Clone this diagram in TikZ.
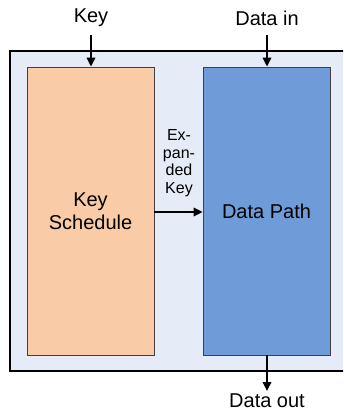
\documentclass[tikz,border=0pt]{standalone}
\usepackage{fontspec}
\setmainfont{Liberation Sans}
\usetikzlibrary{arrows.meta}
\definecolor{outerfill}{HTML}{E6ECF7}
\definecolor{keyfill}{HTML}{F9CBA7}
\definecolor{pathfill}{HTML}{6F9CD9}
\definecolor{boxline}{HTML}{404040}
\tikzset{
  block/.style={draw=boxline, line width=0.8pt, minimum width=127pt, minimum height=288pt, inner sep=0pt, font=\fontsize{20}{22.5}\selectfont, align=center},
  lbl/.style={font=\fontsize{20}{22.5}\selectfont, inner sep=0pt},
  flow/.style={line width=1.8pt, -{Triangle[length=9pt,width=8.5pt]}}
}
\begin{document}
\begin{tikzpicture}[x=1pt,y=-1pt]
\clip (0,0) rectangle (343,411);
\fill[white] (0,0) rectangle (343,411);
% enclosing unit
\draw[line width=2pt, fill=outerfill] (10,51) rectangle (360,371);
% inner blocks
\node[block, fill=keyfill] (ks) at (90.5,211) {Key\\Schedule};
\node[block, fill=pathfill] (dp) at (266.5,211) {Data Path};
% external signals
\node[lbl] (key) at (91,18) {Key};
\node[lbl] (din) at (267,18) {Data in};
\node[lbl] (dout) at (267,401) {Data out};
\coordinate (keytop) at (91,35);
\coordinate (dintop) at (267,35);
\coordinate (doutend) at (267,391);
\draw[flow] (keytop) -- (ks.north -| keytop);
\draw[flow] (dintop) -- (dp.north -| dintop);
\draw[flow] (dp.south -| doutend) -- (doutend);
% expanded key transfer
\draw[flow] (ks.east |- 0,212) -- (dp.west |- 0,212);
\node[font=\fontsize{16}{17.5}\selectfont, align=center, inner sep=0pt] (ek) at (179,163) {Ex-\\pan-\\ded\\Key};
\end{tikzpicture}
\end{document}
